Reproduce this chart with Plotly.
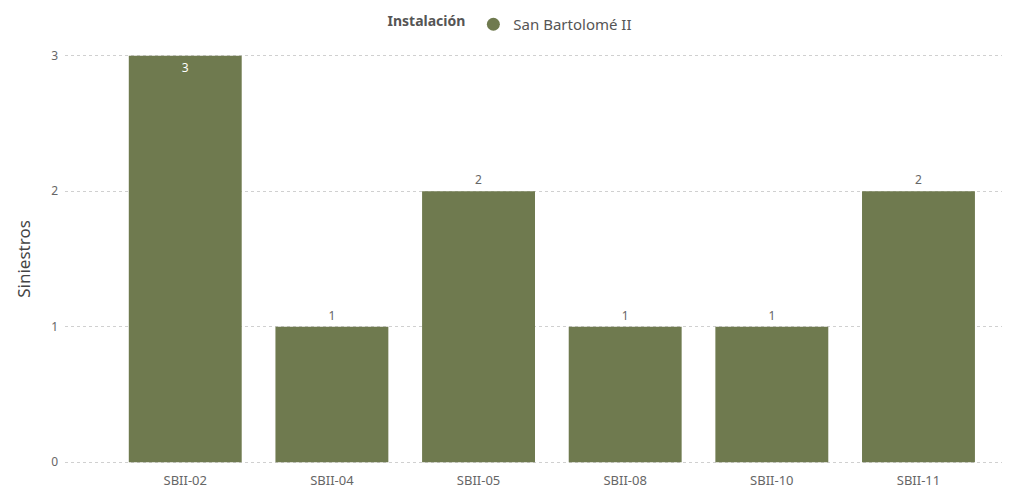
import plotly.graph_objects as go

categories = ["SBII-02", "SBII-04", "SBII-05", "SBII-08", "SBII-10", "SBII-11"]
siniestros = [3, 1, 2, 1, 1, 2]
series_name = "San Bartolomé II"
y_ticks = [0, 1, 2, 3]

bar_color = "#6f7a4f"
text_pos = ["inside" if v == max(siniestros) else "outside" for v in siniestros]
text_col = ["#ffffff" if p == "inside" else "#666666" for p in text_pos]

fig = go.Figure()
fig.add_trace(go.Bar(
    x=categories, y=siniestros, name=series_name,
    marker=dict(color=bar_color, line=dict(width=0)),
    text=[str(v) for v in siniestros], textposition=text_pos,
    insidetextanchor="end",
    textfont=dict(color=text_col, size=12, family="Noto Sans"),
    cliponaxis=False, showlegend=False,
))
# legend entry with a round marker, as in the reference
fig.add_trace(go.Scatter(
    x=[None], y=[None], mode="markers", name=series_name,
    marker=dict(color=bar_color, size=13, symbol="circle"),
    showlegend=True, hoverinfo="skip",
))

fig.update_layout(
    width=1002, height=480,
    margin=dict(l=57, r=5, t=45, b=23, autoexpand=False),
    paper_bgcolor="white", plot_bgcolor="white",
    bargap=0.23,
    font=dict(family="Noto Sans", color="#666666", size=12),
    legend=dict(
        orientation="h", x=0.475, xanchor="center", y=1.0, yanchor="top",
        yref="container",
        title=dict(text="<b>Instalación</b>", font=dict(color="#555555", size=14)),
        font=dict(color="#555555", size=15),
        itemwidth=30, tracegroupgap=0,
    ),
    xaxis=dict(
        range=[-0.82, 5.59], showgrid=False, showline=False, ticks="",
        tickfont=dict(color="#666666", size=13), ticklabelstandoff=6,
        automargin=False,
    ),
    yaxis=dict(
        range=[-0.02, 3.02], tickvals=y_ticks, showgrid=True, gridcolor="#d0d0d0",
        griddash="dot", gridwidth=1, zeroline=False, showline=False,
        tickfont=dict(color="#666666", size=12), ticklabelstandoff=6,
        title=dict(text="Siniestros", font=dict(color="#444444", size=17), standoff=16),
        automargin=False,
    ),
)
fig.write_html("out.html")
